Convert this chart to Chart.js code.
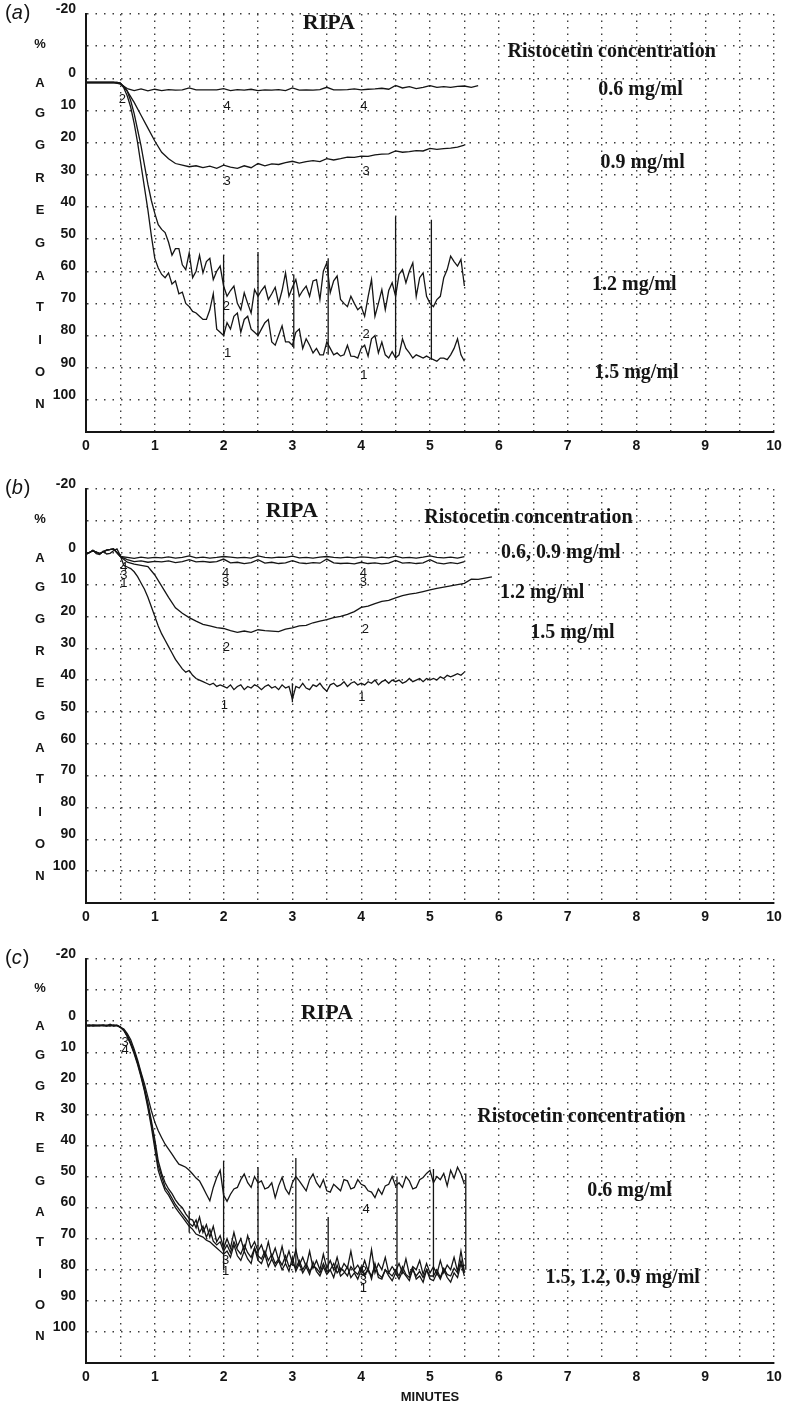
<!DOCTYPE html>
<html>
<head>
<meta charset="utf-8">
<script src="https://cdn.jsdelivr.net/npm/chart.js@4.4.1/dist/chart.umd.min.js"></script>
<style>
  html, body { margin: 0; padding: 0; background: #fff; }
  body { position: relative; width: 792px; height: 1408px; overflow: hidden; }
  canvas { position: absolute; left: 0; }
</style>
</head>
<body>
<canvas id="chartA" width="792" height="465" style="top:0"></canvas>
<canvas id="chartB" width="792" height="465" style="top:470px"></canvas>
<canvas id="chartC" width="792" height="468" style="top:940px"></canvas>
<script>
// sampling of the traces (minutes between readings)
var FINE = 0.05, COARSE = 0.1;

// ---- panel (a) -------------------------------------------------------
var a1 = [1.3,1.3,1.3,1.3,1.3,1.3,1.3,1.3,1.3,1.3,1.5,
  3,5.5,9,14,20,27,34,41,49,56,
  59,61,62,60.5,64,63,67,66.5,70,71,
  72.5,73,74,75,75,72,67,78,79,80,
  76,78,74,73,79,75,74,78,79,80,
  78,76,75,82,83,80,77,82,82,83,
  79,78,84,81,83,85.4,84,86,86,82,
  84,86,85.4,86.4,86,83,86.4,86.5,87,84,
  83,86.4,81,80,85.4,82,86,87,85,87,
  86,81,84,85.4,87,86,86.5,87,86.4,87,
  87.5,88,87,87,87.5,86,84,81,86,88];
var a2 = [1.3,1.3,1.3,1.3,1.3,1.3,1.3,1.3,1.3,1.3,1.5,
  2.5,4,7,11,16,21,27,33,38,42,
  45.5,47,48,51,55,53,53,58,59.5,54.3,
  62,60,55,60.5,57,56,62.6,60,58.4,64.6,
  67.8,66,64.6,70,72,66.7,70,73,65.7,67.8,
  66,64.6,68.8,67,65,70,66,60.5,67.8,65,
  62.6,67.8,66,64.6,67.8,63,62.6,68.8,60,57.4,
  66.7,63,61.5,68.8,70,71,67.8,70,72,71,
  74,68,62.6,74,70,65.7,72,66,63.6,67.8,
  61,59.5,63.6,60,57.4,67.8,62,60.5,67.8,70,
  71,68.8,67.8,62,59.5,55.3,57,58.4,56.3,64.6];
var a3 = [1.3,1.3,1.3,1.3,1.3,1.6,
  4,7.5,11.5,15.5,19.5,
  23,25,26.5,27,27.5,
  27.2,27.8,27.3,28,27,
  27.6,28,27.2,27.8,26.5,
  27.2,26.6,26.8,26.2,25.8,
  26.4,25.9,25.6,25.9,25,
  25.4,25,24.5,24.6,24.2,
  24.3,23.8,23.6,23.5,22.6,
  23,22.8,22.5,22.6,21.8,
  22.1,21.9,21.7,21.4,20.8];
var a4 = [1.3,1.3,1.3,1.3,1.3,1.8,
  3.2,3.8,3.3,3.9,3.4,
  3.8,3.5,3.7,3.6,3.0,
  3.6,3.6,3.6,3.6,3.2,
  3.8,3.5,3.7,3.4,3.8,
  3.6,3.7,3.5,3.8,3.0,
  3.7,3.6,3.7,3.5,2.8,
  3.6,3.6,3.5,3.3,3.6,
  3.4,3.3,3.1,3.4,2.2,
  3.0,2.6,3.2,2.8,2.3,
  2.8,2.6,2.8,2.5,2.4,
  2.8,2.3];
// [minute, from %, to %] marker strokes
var spikesA = [[2.0,80,55],[2.5,80,54],[3.02,84,61],[3.52,86,56],[4.5,87,43],[5.02,87.5,44]];

// ---- panel (b) -------------------------------------------------------
var b1 = [0.5,0,-0.8,0.3,0.6,-0.5,0.4,0.2,-0.6,-1.2,1,
  4,4.5,5,6,7.5,9.5,11.5,14,17,20,
  23,25.5,27.5,29.5,31.5,33.5,35,36.5,37.5,37,
  38.5,39.5,40,40.5,41,41.5,41,42,41.5,42,
  42.5,41.5,43,42,41.5,43,42,42.5,41.5,42,
  43,42,41.5,42.5,42,43,41.5,42.5,42,46,
  42,42.5,41,42.5,43,41.5,42,41,42.5,43.5,
  41.5,41,42,41.5,40.5,42,41,40.5,41.5,41,
  41.5,40.5,41,40,41.5,40.5,40,41,40,40.5,
  40,41,40.5,39.5,40.5,40,39.5,40.5,39.5,40,
  39.5,40,39,39.5,38.5,39,38.5,38,38.5,37.5];
var b2 = [0.5,-0.6,0.3,-0.8,-1.2,1.2,
  3,3.6,4,4.4,7,
  10.5,14,17.3,19,20.4,
  21.5,22.5,23,23.5,23.8,
  24.5,25,24.6,25,24.2,
  24.5,24.6,24.8,24,23.6,
  23,22.8,22,21.5,21,
  20.4,20,19.4,18.5,17.2,
  16.8,16,15.3,15,14.2,
  13.5,13,12.7,12.2,11.7,
  11.2,10.8,10.4,10,9.6,
  8.3,8.4,8.0,7.6];
var b3 = [0.5,-0.6,0.3,-0.8,-1.2,1.2,
  2.2,2.8,2.6,3.0,2.7,
  2.9,2.6,3.1,2.8,2.2,
  2.9,2.7,3.0,2.8,2.0,
  3.2,3.0,3.4,3.1,2.2,
  3.3,3.0,3.4,3.2,2.5,
  3.2,3.4,3.1,3.3,2.0,
  3.2,3.4,3.3,3.5,3.0,
  3.4,3.2,3.5,3.3,2.4,
  3.3,3.1,3.4,3.2,2.2,
  3.2,3.5,3.1,3.4,2.8];
var b4 = [0.5,-0.6,0.3,-0.8,-1.2,1.2,
  1.5,1.8,1.4,1.7,1.5,
  1.6,1.3,1.7,1.5,1.0,
  1.6,1.4,1.7,1.5,1.2,
  1.4,1.6,1.5,1.7,1.0,
  1.5,1.6,1.4,1.5,1.1,
  1.6,1.5,1.7,1.4,1.2,
  1.5,1.6,1.4,1.6,1.3,
  1.5,1.7,1.4,1.6,1.1,
  1.6,1.5,1.7,1.4,1.0,
  1.5,1.6,1.4,1.7,1.2];
var spikesB = [[3.0,41,47]];

// ---- panel (c) -------------------------------------------------------
var c1 = [1.4,1.4,1.4,1.4,1.4,1.4,1.4,1.4,1.4,1.4,1.8,
  3,5,7.5,10.5,14,18,22.5,28,34,41,
  48,51.5,54.5,56,58,60,61.5,63,64.5,66,
  67,68.5,69,69.5,70.5,71,72,73,74,75,
  74,76,72,75.5,77,74,76.5,78,73,77,
  78,75,79,76.5,79,77,80,78,80.5,76,
  80.5,78,81,79,81.5,77.5,80.5,82,79,81.5,
  80,82.5,78.5,82,81,79,82.5,81,83,80,
  82,79.5,83,78,82.5,83,80,82,83.5,81,
  83,80.5,82,83.5,79.5,83,82,84,80,83,
  83.5,81,83,80,82.5,84,81,82.5,78,82];
var c2 = [1.4,1.6,1.2,1.4,1.5,1.3,1.4,1.2,1.6,1.4,2,
  3,4.8,7.2,10,13.5,17.5,22,27,33,39.5,
  46.5,50,53.5,55,57,59,60.5,62,63.5,65,
  66,64,68,66,69.5,67,70.8,72,71,74,
  72,74.5,71,73.5,75,72,74.5,76,73,75.5,
  76.5,74,77,75,78,76.5,78.5,75.5,79,78,
  79.5,77,80,78,80.5,79,79.5,81,78,80.5,
  80,78,81,79.5,80.5,82,79,80.5,81.5,79,
  81.5,80,82,78.5,81.5,82.5,80,81,82,80,
  82,79,81.5,82.5,80,82,80.5,82.5,80,82,
  82,80,82.5,79.5,81.5,82,79.5,81,77,81];
var c3 = [1.4,1.2,1.6,1.4,1.3,1.5,1.4,1.6,1.2,1.4,2,
  2.8,4.5,7,9.8,13.2,17,21.5,26.5,32,38,
  45,49,52,54,55.5,57.5,59,60,62,63.5,
  64,66.5,63,68,65.5,69.5,66,71,69,73,
  70,73,68,72.5,70,74,69,73,71,74,
  72,75.5,71,76,73,77,72.5,77.5,74,78,
  73.5,78.5,76,79,74,79.5,77,80,75,79.5,
  77,80,76,80.5,78,79.5,74,80,78.5,80.5,
  77,80.5,73.5,81,78,80,76,81,79,80.5,
  78,81,76.5,81.5,79,80,77,81.5,78,81,
  79,81.5,77,81,78.5,80,76,80.5,74,80.5];
var c4 = [1.4,1.4,1.4,1.4,1.4,1.2,1.6,1.0,1.5,1.3,2,
  2.5,4,6,9,12.5,16.5,20.2,24.5,28.8,32.5,
  35.3,37.5,39.6,41.2,42.8,44.5,46,46.5,47,48,
  49.2,50.5,51.4,53.5,55.7,57.8,53.5,50.3,48,56,
  58,55.7,54,53.5,51,49.2,52,53.5,50,52,
  51.4,54,53.5,52,56.8,53,50.3,54,55.7,52,
  50,51.4,53,54.6,51,49.2,52,53.5,51,54.6,
  55,52.5,53.5,54.6,51,51.4,54,53.5,51,52.5,
  53,54.6,55,56.8,54,55.7,53,52.5,50,53,
  52,53.5,50,51.4,54,53.5,51,50.3,49,48,
  52,50,51,49,53,48,50.5,47,49.2,52.5];
var spikesC = [[1.5,68,61],[2.0,80,45],[2.5,77,47],[3.05,80,44],[3.52,81,63],[4.52,82,50],[5.05,82.5,47.6],[5.52,80,49]];

// ---- text on the panels: [text, minute, %, kind] ----------------------
var notesA = [
  ['RIPA', 3.53, -17.2, 'ripa'],
  ['Ristocetin concentration', 7.64, -8.2, 'head'],
  ['0.6 mg/ml', 8.06, 3.6, 'conc'],
  ['0.9 mg/ml', 8.09, 26.3, 'conc'],
  ['1.2 mg/ml', 7.97, 64.2, 'conc'],
  ['1.5 mg/ml', 8.0, 91.5, 'conc'],
  ['2', 0.53, 6.5, 'num'], ['4', 2.05, 8.6, 'num'], ['4', 4.04, 8.6, 'num'],
  ['3', 2.05, 32, 'num'], ['3', 4.07, 29, 'num'],
  ['2', 2.04, 71, 'num'], ['2', 4.07, 79.5, 'num'],
  ['1', 2.06, 85.6, 'num'], ['1', 4.04, 92.4, 'num']
];
var notesB = [
  ['RIPA', 2.99, -13.1, 'ripa'],
  ['Ristocetin concentration', 6.43, -10.9, 'head'],
  ['0.6, 0.9 mg/ml', 6.9, 0.1, 'conc'],
  ['1.2 mg/ml', 6.63, 12.7, 'conc'],
  ['1.5 mg/ml', 7.07, 25.2, 'conc'],
  ['4', 0.55, 4.5, 'num'], ['3', 0.55, 7, 'num'], ['1', 0.55, 9.5, 'num'],
  ['4', 2.03, 6.5, 'num'], ['3', 2.03, 9.4, 'num'],
  ['4', 4.03, 6.5, 'num'], ['3', 4.03, 9.4, 'num'],
  ['2', 2.04, 29.7, 'num'], ['2', 4.06, 24, 'num'],
  ['1', 2.01, 48.1, 'num'], ['1', 4.01, 45.3, 'num']
];
var notesC = [
  ['RIPA', 3.5, -2.6, 'ripa'],
  ['Ristocetin concentration', 7.2, 30.9, 'head'],
  ['0.6 mg/ml', 7.9, 54.7, 'conc'],
  ['1.5, 1.2, 0.9 mg/ml', 7.8, 82.7, 'conc'],
  ['3', 0.57, 7, 'num'], ['4', 0.57, 9.5, 'num'],
  ['4', 4.07, 60.5, 'num'],
  ['3', 2.03, 77, 'num'], ['1', 2.03, 80.5, 'num'],
  ['2', 4.03, 80.5, 'num'], ['3', 4.03, 83.3, 'num'], ['1', 4.03, 86, 'num']
];

// the vertical "% AGGREGATION" word down the y axis
var axisWord = ['%','A','G','G','R','E','G','A','T','I','O','N'];
var axisWordAt = [-10.5, 1.7, 11, 21, 31, 41, 51.5, 61.5, 71.3, 81.5, 91.5, 101.5];

var SANS = '"Liberation Sans", Arial, sans-serif';
var SERIF = '"Liberation Serif", "Times New Roman", serif';
var FONTS = {
  ripa: 'bold 22px ' + SERIF,
  head: 'bold 20px ' + SERIF,
  conc: 'bold 20px ' + SERIF,
  num: '13px ' + SANS
};
var INK = '#151515';

function trace(values, step) {
  return values.map(function (v, i) {
    return {x: Math.round(i * step * 1000) / 1000, y: v};
  });
}

function spikeLines(spikes) {
  var out = [];
  spikes.forEach(function (s) {
    out.push({x: s[0], y: s[1]}, {x: s[0], y: s[2]}, {x: s[0], y: null});
  });
  return out;
}

var notesPlugin = {
  id: 'notes',
  afterDraw: function (chart, args, opts) {
    var ctx = chart.ctx, area = chart.chartArea;
    var xs = chart.scales.x, ys = chart.scales.y;
    ctx.save();
    ctx.fillStyle = INK;
    ctx.textBaseline = 'middle';

    // panel letter, e.g. (a) with an italic letter
    ctx.textAlign = 'left';
    var px = 5, py = area.top - 1;
    ctx.font = '20px ' + SANS;
    ctx.fillText('(', px, py);
    px += ctx.measureText('(').width;
    ctx.font = 'italic 20px ' + SANS;
    ctx.fillText(opts.panel, px, py);
    px += ctx.measureText(opts.panel).width + 1;
    ctx.font = '20px ' + SANS;
    ctx.fillText(')', px, py);

    ctx.textAlign = 'center';
    ctx.font = 'bold 13px ' + SANS;
    axisWord.forEach(function (ch, i) {
      ctx.fillText(ch, 40, ys.getPixelForValue(axisWordAt[i]));
    });

    opts.items.forEach(function (n) {
      ctx.font = FONTS[n[3]];
      ctx.fillText(n[0], xs.getPixelForValue(n[1]), ys.getPixelForValue(n[2]));
    });
    ctx.restore();
  }
};

// keep the plot box exactly where the layout padding puts it
function noOverhang(s) {
  s.paddingTop = 0; s.paddingBottom = 0; s.paddingLeft = 0; s.paddingRight = 0;
}

function makePanel(id, lines, spikes, notes, panel, padTop, xHeight, withTitle) {
  var datasets = lines.map(function (d) {
    return {data: d, borderColor: INK, borderWidth: 1.3, pointRadius: 0, tension: 0, fill: false};
  });
  datasets.push({data: spikeLines(spikes), borderColor: INK, borderWidth: 1.3,
    pointRadius: 0, spanGaps: false, fill: false});

  return new Chart(document.getElementById(id), {
    type: 'line',
    data: {datasets: datasets},
    options: {
      responsive: false,
      animation: false,
      devicePixelRatio: 1,
      layout: {padding: {top: padTop, right: 18, left: 0, bottom: 0}},
      plugins: {
        legend: {display: false},
        tooltip: {enabled: false},
        notes: {panel: panel, items: notes}
      },
      scales: {
        x: {
          type: 'linear', min: 0, max: 10,
          afterFit: function (s) { s.height = xHeight; noOverhang(s); },
          grid: {color: '#3c3c3c', lineWidth: 1.4, drawTicks: false},
          border: {display: true, color: INK, width: 2, dash: [1.5, 5]},
          ticks: {
            stepSize: 0.5, autoSkip: false, maxRotation: 0, padding: 6, color: INK,
            font: {family: SANS, weight: 'bold', size: 14},
            callback: function (v) { return Number.isInteger(v) ? String(v) : ''; }
          },
          title: {
            display: withTitle, text: 'MINUTES', color: INK,
            font: {family: SANS, weight: 'bold', size: 13},
            padding: {top: 0, bottom: 3}
          }
        },
        y: {
          type: 'linear', min: -20, max: 110, reverse: true,
          afterFit: function (s) { s.width = 86; noOverhang(s); },
          grid: {
            color: function (c) { return c.tick && c.tick.value === 110 ? 'rgba(0,0,0,0)' : '#3c3c3c'; },
            lineWidth: 1.4, drawTicks: false
          },
          border: {display: true, color: INK, width: 2, dash: [1.5, 7]},
          ticks: {
            stepSize: 10, padding: 10, color: INK,
            labelOffset: function (c) { return c.tick && c.tick.value === -20 ? 0 : -5; },
            font: {family: SANS, weight: 'bold', size: 14},
            callback: function (v) { return (v === -10 || v === 110) ? '' : String(v); }
          }
        }
      }
    },
    plugins: [notesPlugin]
  });
}

makePanel('chartA',
  [trace(a1, FINE), trace(a2, FINE), trace(a3, COARSE), trace(a4, COARSE)],
  spikesA, notesA, 'a', 14, 33, false);
makePanel('chartB',
  [trace(b1, FINE), trace(b2, COARSE), trace(b3, COARSE), trace(b4, COARSE)],
  spikesB, notesB, 'b', 19, 32, false);
makePanel('chartC',
  [trace(c1, FINE), trace(c2, FINE), trace(c3, FINE), trace(c4, FINE)],
  spikesC, notesC, 'c', 19, 45, true);
</script>
</body>
</html>
